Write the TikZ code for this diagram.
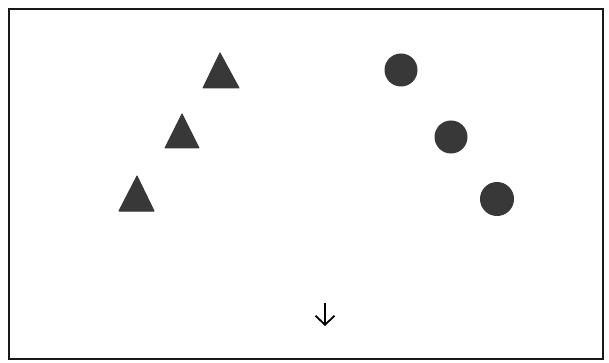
\documentclass[tikz,border=0pt]{standalone}
\usetikzlibrary{arrows.meta}
\definecolor{ink}{HTML}{383838}
\begin{document}
\begin{tikzpicture}[x=1pt,y=-1pt,
  tri/.style={fill=ink,draw=ink,line width=1pt,line join=round},
  dot/.style={fill=ink,draw=ink,line width=1pt},
  frame/.style={draw=black!90,line width=2pt},
  pointer/.style={draw=black,line width=1.8pt,-{Straight Barb[length=9pt,width=19pt,line width=1.8pt]}}]
\useasboundingbox (0,0) rectangle (609,363);
\draw[frame] (9,9) rectangle (603,359);
% triangles
\fill[tri] (220,53) -- (239,88) -- (203,88) -- cycle;
\fill[tri] (182,114) -- (199,148) -- (165,148) -- cycle;
\fill[tri] (137,176) -- (154,211) -- (119,211) -- cycle;
% circles
\fill[dot] (401,70) circle (16);
\fill[dot] (451,137) circle (16);
\fill[dot] (497,199) circle (16.5);
% arrow
\coordinate (a1) at (325,303);
\coordinate (a2) at (325,326);
\draw[pointer] (a1) -- (a2);
\end{tikzpicture}
\end{document}
